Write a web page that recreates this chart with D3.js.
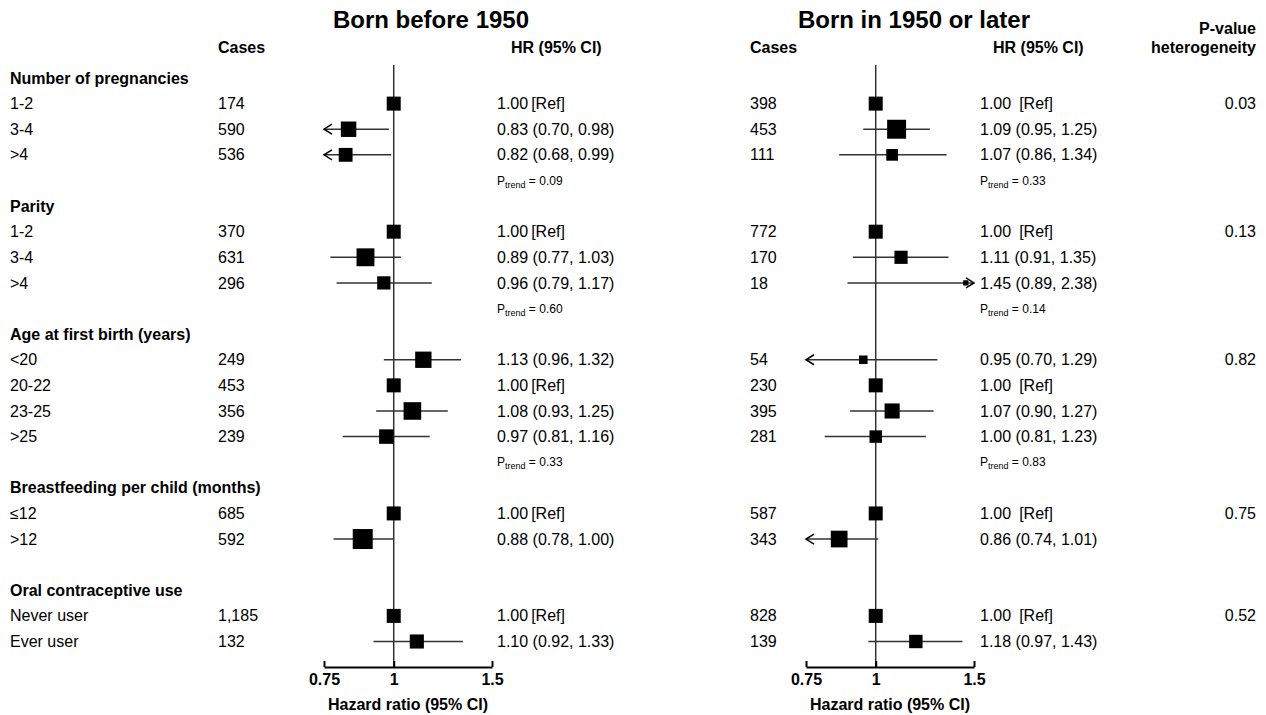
<!DOCTYPE html>
<html>
<head>
<meta charset="utf-8">
<script src="https://cdn.jsdelivr.net/npm/d3@7"></script>
<style>
  body { margin: 0; background: #fff; }
  svg text { font-family: "Liberation Sans", Arial, sans-serif; fill: #000; }
</style>
</head>
<body>
<div id="chart"></div>
<script>
// groups and rows
const groups = ["Number of pregnancies", "Parity", "Age at first birth (years)",
                "Breastfeeding per child (months)", "Oral contraceptive use"];
const rowGroup = [0,0,0, 1,1,1, 2,2,2,2, 3,3, 4,4];
const rowLabel = ["1-2","3-4",">4", "1-2","3-4",">4", "<20","20-22","23-25",">25",
                  "≤12",">12", "Never user","Ever user"];

// born before 1950
const casesBefore = ["174","590","536","370","631","296","249","453","356","239","685","592","1,185","132"];
const hrBefore = [1.00,0.83,0.82, 1.00,0.89,0.96, 1.13,1.00,1.08,0.97, 1.00,0.88, 1.00,1.10];
const loBefore = [null,0.70,0.68, null,0.77,0.79, 0.96,null,0.93,0.81, null,0.78, null,0.92];
const hiBefore = [null,0.98,0.99, null,1.03,1.17, 1.32,null,1.25,1.16, null,1.00, null,1.33];
const ptrendBefore = ["0.09","0.60","0.33",null,null];

// born in 1950 or later
const casesAfter = ["398","453","111","772","170","18","54","230","395","281","587","343","828","139"];
const hrAfter = [1.00,1.09,1.07, 1.00,1.11,1.45, 0.95,1.00,1.07,1.00, 1.00,0.86, 1.00,1.18];
const loAfter = [null,0.95,0.86, null,0.91,0.89, 0.70,null,0.90,0.81, null,0.74, null,0.97];
const hiAfter = [null,1.25,1.34, null,1.35,2.38, 1.29,null,1.27,1.23, null,1.01, null,1.43];
const ptrendAfter = ["0.33","0.14","0.83",null,null];

const pHet = ["0.03","0.13","0.82","0.75","0.52"];
const tickVals = [0.75, 1, 1.5];

const width = 1266, height = 715;
const svg = d3.select("#chart").append("svg")
    .attr("width", width).attr("height", height);

// build row layout: header, data rows, then p-trend / blank row between groups
let layout = [];
groups.forEach((g, gi) => {
    layout.push({type: "header", group: gi});
    rowGroup.forEach((rg, ri) => { if (rg === gi) layout.push({type: "row", idx: ri, group: gi}); });
    if (gi < groups.length - 1) layout.push({type: "trend", group: gi});
});
layout.forEach((d, i) => d.pos = i);

const y = d3.scaleLinear().domain([0, layout.length - 1]).range([78, 641.5]);
const sizeOf = (lo, hi) => lo == null ? 14 : Math.max(5, Math.min(20, 5.2 / Math.log(hi / lo)));

// row labels and group headers
layout.forEach(d => {
    if (d.type === "header") {
        svg.append("text").attr("x", 10).attr("y", y(d.pos)).attr("dy", "0.35em")
            .style("font-size", "16px").style("font-weight", "bold").text(groups[d.group]);
    } else if (d.type === "row") {
        svg.append("text").attr("x", 10).attr("y", y(d.pos)).attr("dy", "0.35em")
            .style("font-size", "16px").text(rowLabel[d.idx]);
    }
});

// heterogeneity column
svg.append("text").attr("x", 1256).attr("y", 28).attr("dy", "0.35em").attr("text-anchor", "end")
    .style("font-size", "16px").style("font-weight", "bold").text("P-value");
svg.append("text").attr("x", 1256).attr("y", 47).attr("dy", "0.35em").attr("text-anchor", "end")
    .style("font-size", "16px").style("font-weight", "bold").text("heterogeneity");
layout.filter(d => d.type === "header").forEach(d => {
    svg.append("text").attr("x", 1256).attr("y", y(d.pos + 1)).attr("dy", "0.35em")
        .attr("text-anchor", "end").style("font-size", "16px").text(pHet[d.group]);
});

function drawPanel(p) {
    const x = d3.scaleLog().domain([0.75, 1.5]).range([p.x0, p.x0 + 168]);
    const g = svg.append("g");

    g.append("text").attr("x", p.titleX).attr("y", 20).attr("dy", "0.35em")
        .attr("text-anchor", "middle").style("font-size", "24px").style("font-weight", "bold")
        .text(p.title);
    g.append("text").attr("x", p.casesX).attr("y", 47).attr("dy", "0.35em")
        .style("font-size", "16px").style("font-weight", "bold").text("Cases");
    g.append("text").attr("x", p.hrHeadX).attr("y", 47).attr("dy", "0.35em")
        .style("font-size", "16px").style("font-weight", "bold").text("HR (95% CI)");

    // reference line at 1
    g.append("line").attr("x1", x(1)).attr("x2", x(1)).attr("y1", 65).attr("y2", 667)
        .attr("stroke", "#333").attr("stroke-width", 1.5);

    const rows = layout.filter(d => d.type === "row");
    rows.forEach(d => {
        const i = d.idx, yy = y(d.pos);
        const hr = p.hr[i], lo = p.lo[i], hi = p.hi[i];

        g.append("text").attr("x", p.casesX).attr("y", yy).attr("dy", "0.35em")
            .style("font-size", "16px").text(p.cases[i]);

        const t = g.append("text").attr("x", p.hrX).attr("y", yy).attr("dy", "0.35em")
            .style("font-size", "16px");
        if (lo == null) {
            t.text(hr.toFixed(2));
            t.append("tspan").attr("dx", p.refGap).text("[Ref]");
        } else {
            t.text(`${hr.toFixed(2)} (${lo.toFixed(2)}, ${hi.toFixed(2)})`);
        }

        if (lo != null) {
            const xl = x(Math.max(lo, 0.75)), xr = x(Math.min(hi, 1.5));
            g.append("line").attr("x1", xl).attr("x2", xr).attr("y1", yy).attr("y2", yy)
                .attr("stroke", "#333").attr("stroke-width", 1.5);
            if (lo < 0.75) {
                g.append("path").attr("d", `M${xl + 8},${yy - 5}L${xl},${yy}L${xl + 8},${yy + 5}`)
                    .attr("fill", "none").attr("stroke", "#000").attr("stroke-width", 1.5);
            }
            if (hi > 1.5) {
                g.append("path").attr("d", `M${xr - 8},${yy - 5}L${xr},${yy}L${xr - 8},${yy + 5}`)
                    .attr("fill", "none").attr("stroke", "#000").attr("stroke-width", 1.5);
            }
        }
        const s = sizeOf(lo, hi);
        g.append("rect").attr("x", x(hr) - s / 2).attr("y", yy - s / 2)
            .attr("width", s).attr("height", s).attr("fill", "#000");
    });

    // p-trend rows
    layout.filter(d => d.type === "trend").forEach(d => {
        const v = p.ptrend[d.group];
        if (v == null) return;
        const t = g.append("text").attr("x", p.hrX).attr("y", y(d.pos)).attr("dy", "0.35em")
            .style("font-size", "12px");
        t.append("tspan").text("P");
        t.append("tspan").attr("dy", "3").style("font-size", "9px").text("trend");
        t.append("tspan").attr("dy", "-3").text(" = " + v);
    });

    // axis
    const axis = g.append("g").attr("transform", "translate(0,667)")
        .call(d3.axisBottom(x).tickValues(tickVals).tickFormat(d => String(d))
            .tickSizeInner(-6).tickSizeOuter(0).tickPadding(7));
    axis.select(".domain").attr("stroke", "#000").attr("stroke-width", 2);
    axis.selectAll(".tick line").attr("stroke", "#000").attr("stroke-width", 2);
    axis.selectAll(".tick text").style("font-size", "16px").style("font-weight", "bold")
        .style("font-family", "'Liberation Sans', Arial, sans-serif").attr("fill", "#000");

    g.append("text").attr("x", p.x0 + 84).attr("y", 704).attr("dy", "0.35em")
        .attr("text-anchor", "middle").style("font-size", "16px").style("font-weight", "bold")
        .text("Hazard ratio (95% CI)");
}

drawPanel({title: "Born before 1950", titleX: 431, x0: 324, casesX: 218, hrX: 497, hrHeadX: 511,
    refGap: 3, cases: casesBefore, hr: hrBefore, lo: loBefore, hi: hiBefore, ptrend: ptrendBefore});
drawPanel({title: "Born in 1950 or later", titleX: 914, x0: 806, casesX: 750, hrX: 980, hrHeadX: 993,
    refGap: 8, cases: casesAfter, hr: hrAfter, lo: loAfter, hi: hiAfter, ptrend: ptrendAfter});
</script>
</body>
</html>
